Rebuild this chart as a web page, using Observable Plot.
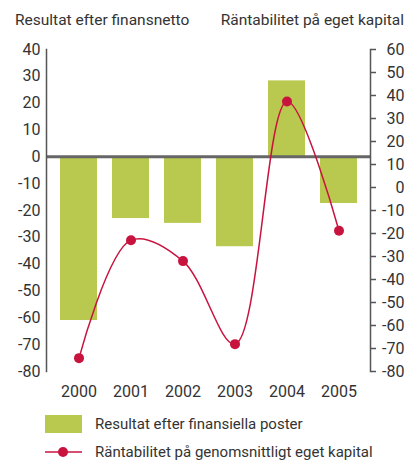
<!DOCTYPE html>
<html>
<head>
<meta charset="utf-8">
<script src="https://cdn.jsdelivr.net/npm/d3@7"></script>
<script src="https://cdn.jsdelivr.net/npm/@observablehq/plot@0.6"></script>
<style>
  body { margin: 0; background: #fff; }
  #wrap { position: relative; width: 407px; height: 461px; font-family: Roboto, sans-serif; color: #333; overflow: hidden; }
  .t { position: absolute; font-size: 15px; white-space: nowrap; }
  #chart { position: absolute; left: 0; top: 0; }
</style>
</head>
<body>
<div id="wrap">
  <div id="chart"></div>
  <div class="t" style="left:15px; top:11px; font-size:15.5px;">Resultat efter finansnetto</div>
  <div class="t" style="right:3px; top:11px; font-size:15.5px;">Räntabilitet på eget kapital</div>
  <div style="position:absolute; left:45px; top:415px; width:37px; height:18px; background:#b9c84e;"></div>
  <div class="t" style="left:95px; top:415px;">Resultat efter finansiella poster</div>
  <svg style="position:absolute; left:45px; top:444px;" width="38" height="16">
    <line x1="0" y1="8" x2="37" y2="8" stroke="#c8133f" stroke-width="1.5"/>
    <circle cx="18" cy="8" r="5" fill="#c8133f"/>
  </svg>
  <div class="t" style="left:95px; top:443px;">Räntabilitet på genomsnittligt eget kapital</div>
</div>
<script>
const years = ["2000", "2001", "2002", "2003", "2004", "2005"];
const resultat = [-61, -23, -24.8, -33.5, 28.3, -17.4];
const rantabilitet = [-74.2, -22.9, -32, -68.1, 37.4, -18.8];
const leftTicks = [40, 30, 20, 10, 0, -10, -20, -30, -40, -50, -60, -70, -80];
const rightTicks = [60, 50, 40, 30, 20, 10, 0, -10, -20, -30, -40, -50, -60, -70, -80];

// right axis domain [-80, 60] mapped onto the left axis domain [-80, 40]
const toLeft = r => -80 + (r + 80) * (120 / 140);
const fromLeft = l => Math.round(-80 + (l + 80) * (140 / 120));

const bars = years.map((y, i) => ({year: y, value: resultat[i]}));
const line = years.map((y, i) => ({year: y, value: toLeft(rantabilitet[i])}));

const plot = Plot.plot({
  width: 407,
  height: 400,
  marginTop: 49,
  marginBottom: 29,
  marginLeft: 46,
  marginRight: 37,
  style: {fontFamily: "Roboto, sans-serif", fontSize: "16px", color: "#333", background: "transparent"},
  x: {domain: years, paddingInner: 0.294, paddingOuter: 0.24, label: null},
  y: {domain: [-80, 40], label: null},
  marks: [
    Plot.barY(bars, {x: "year", y: "value", fill: "#b9c84e"}),
    Plot.ruleY([0], {stroke: "#666", strokeWidth: 3}),
    Plot.frame({anchor: "left", stroke: "#555", strokeWidth: 1.5}),
    Plot.frame({anchor: "right", stroke: "#555", strokeWidth: 1.5}),
    Plot.axisY({anchor: "left", ticks: leftTicks, tickSize: 0, tickPadding: 6, tickFormat: d => d, fill: "#333"}),
    Plot.axisY({anchor: "right", ticks: rightTicks.map(toLeft), tickFormat: fromLeft, tickSize: 5, tickPadding: 29, textAnchor: "end", stroke: "#555", strokeWidth: 1.5, fill: "#333"}),
    Plot.axisX({anchor: "bottom", tickSize: 0, tickPadding: 14, fill: "#333"}),
    Plot.line(line, {x: "year", y: "value", stroke: "#c8133f", strokeWidth: 1.5, curve: "catmull-rom"}),
    Plot.dot(line, {x: "year", y: "value", r: 5, fill: "#c8133f"})
  ]
});
document.getElementById("chart").appendChild(plot);
</script>
</body>
</html>
